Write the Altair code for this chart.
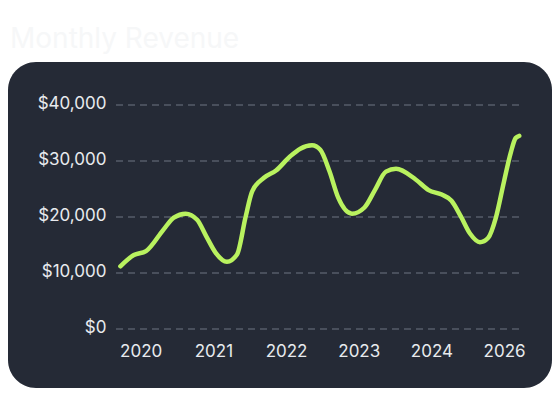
import altair as alt
import pandas as pd

# ---- data ----
year_pos = [2019.72, 2019.906, 2020.073, 2020.311, 2020.455, 2020.618, 2020.776,
            2020.904, 2021.032, 2021.186, 2021.325, 2021.443, 2021.531, 2021.696,
            2021.862, 2022.054, 2022.196, 2022.357, 2022.471, 2022.596, 2022.719,
            2022.907, 2023.079, 2023.226, 2023.374, 2023.513, 2023.783, 2023.962,
            2024.142, 2024.276, 2024.405, 2024.533, 2024.667, 2024.782, 2024.887,
            2024.998, 2025.092, 2025.159, 2025.209]
revenue_k = [11.2, 13.2, 13.9, 17.7, 19.9, 20.6, 19.5,
             16.5, 13.6, 12.0, 13.3, 20.0, 24.5, 27.0,
             28.3, 30.8, 32.2, 32.8, 32.0, 28.2, 23.4,
             20.6, 21.7, 24.9, 28.1, 28.6, 26.7, 24.8,
             24.0, 22.9, 20.1, 17.0, 15.5, 16.3, 19.9,
             26.3, 31.5, 34.1, 34.5]
tick_years = [2020, 2021, 2022, 2023, 2024, 2025]
tick_labels = ["2020", "2021", "2022", "2023", "2024", "2026"]
y_ticks = [0, 10000, 20000, 30000, 40000]
title_text = "Monthly Revenue"

df = pd.DataFrame({"t": year_pos, "revenue": [v * 1000 for v in revenue_k]})
grid_df = pd.DataFrame({"level": y_ticks})
title_df = pd.DataFrame({"label": [title_text]})

label_expr = " : ".join(
    [f"datum.value == {y} ? '{l}'" for y, l in zip(tick_years, tick_labels)]
) + " : ''"

PANEL = "#252a36"
LIME = "#b9f25f"
TXT = "#e8eaee"
GRID = "#565c6a"

W, H = 407, 224
PAD_L, PAD_T, PAD_R, PAD_B = 108, 97, 29, 62

x_scale = alt.Scale(domain=[2019.66, 2025.26], nice=False, zero=False)
y_scale = alt.Scale(domain=[0, 40000], nice=False)

y_axis = alt.Axis(values=y_ticks, format="$,.0f", title=None,
                  grid=False, ticks=False, domain=False, zindex=1,
                  labelPadding=10, labelFontSize=17, labelFont="Inter",
                  labelColor=TXT, labelOffset=-2)
x_axis = alt.Axis(values=tick_years, labelExpr=label_expr, title=None,
                  grid=False, ticks=False, domain=False, zindex=1,
                  labelPadding=14, labelFontSize=17, labelFont="Inter",
                  labelColor=TXT)

panel = alt.Chart(title_df).mark_rect(color=PANEL, cornerRadius=28).encode(
    x=alt.value(-PAD_L),
    x2=alt.value(W + PAD_R),
    y=alt.value(54 - PAD_T),
    y2=alt.value(380 - PAD_T),
)

title = alt.Chart(title_df).mark_text(
    align="left", baseline="alphabetic", fontSize=28, font="Inter",
    color="#f6f7f8"
).encode(
    x=alt.value(-106),
    y=alt.value(40 - PAD_T),
    text="label:N",
)

grid = alt.Chart(grid_df).mark_rule(
    strokeDash=[7, 5], color=GRID, strokeWidth=1.5
).encode(
    y=alt.Y("level:Q", scale=y_scale, axis=y_axis),
    x=alt.value(0),
    x2=alt.value(W),
)

line = alt.Chart(df).mark_line(
    interpolate="monotone", strokeWidth=4.5, strokeCap="round", color=LIME
).encode(
    x=alt.X("t:Q", scale=x_scale, axis=x_axis),
    y=alt.Y("revenue:Q", scale=y_scale, axis=y_axis),
)

chart = alt.layer(panel, title, grid, line).properties(
    width=W,
    height=H,
    autosize=alt.AutoSizeParams(type="none"),
    padding={"left": PAD_L, "top": PAD_T, "right": PAD_R, "bottom": PAD_B},
    background="white",
).configure_view(stroke=None)

chart.save("out.html", embed_options={"renderer": "svg", "actions": False})
